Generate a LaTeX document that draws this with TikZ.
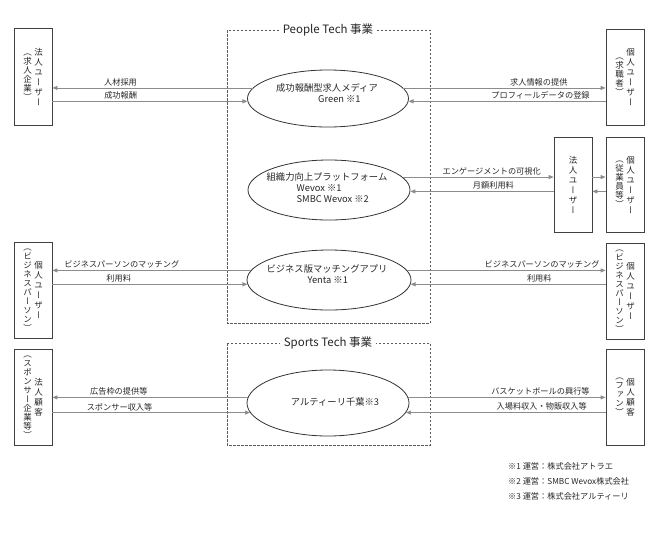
\documentclass[tikz,border=0pt]{standalone}
\usepackage{fontspec}
\setmainfont{Noto Sans CJK JP}
\newfontfamily\tatefont[RawFeature=+vert]{Noto Sans CJK JP}
\usetikzlibrary{arrows.meta,shapes.geometric}

% vertical (tategaki) column: one glyph per line, #1 = pitch
\makeatletter
\def\tate@end{\tate@end}
\def\tate@loop#1{\ifx#1\tate@end\else\hbox to 10pt{\hss#1\hss}\expandafter\tate@loop\fi}
\newcommand\tatecol[2][9pt]{$\vcenter{\tatefont\fontsize{8.5}{9}\selectfont
  \baselineskip=#1\lineskiplimit=-\maxdimen\tate@loop#2\tate@end}$}
\makeatother
\newcommand\tatepair[2]{\tatecol{#1}\hspace{1pt}\tatecol[10pt]{#2}}

\begin{document}
\begin{tikzpicture}[x=1pt, y=-1pt,
  ubox/.style={draw=black!75, line width=0.8pt, minimum width=38pt, minimum height=96pt, inner sep=0pt, text=black!85},
  ell/.style={ellipse, draw=black!80, line width=0.8pt, inner sep=0pt},
  etext/.style={align=left, inner sep=0pt, text=black!85, font=\fontsize{9.3}{11}\selectfont},
  grp/.style={draw=black!65, line width=0.8pt, dash pattern=on 2.5pt off 1.5pt},
  grptitle/.style={fill=white, inner xsep=4pt, text=black!85, font=\fontsize{11.5}{13}\selectfont},
  flow/.style={draw=black!45, line width=0.8pt, -{Triangle[length=5pt, width=4pt]}},
  lbl/.style={above=1.5pt, inner sep=0pt, text=black!85, font=\fontsize{8.2}{9}\selectfont},
  note/.style={anchor=west, inner sep=0pt, text=black!85, font=\fontsize{8.2}{9}\selectfont}]

\useasboundingbox (0,0) rectangle (652,533);

% --- Business groups ---
\draw[grp] (227,30) rectangle (430,323);
\node[grptitle] (ptt) at (328,30) {People Tech 事業};
\draw[grp] (227,343) rectangle (430,445);
\node[grptitle] (stt) at (328,343) {Sports Tech 事業};

% --- Services ---
\node[ell, minimum width=161pt, minimum height=57pt] (e1) at (328,98.5) {};
\node[etext] (e1t) at (327,93.5) {成功報酬型求人メディア\\\hspace*{42pt}Green ※1};
\node[ell, minimum width=162pt, minimum height=60pt] (e2) at (329,190) {};
\node[etext] (e2t) at (327,187.5) {組織力向上プラットフォーム\\\hspace*{30pt}Wevox ※1\\\hspace*{30pt}SMBC Wevox ※2};
\node[ell, minimum width=164pt, minimum height=60pt] (e3) at (329,280) {};
\node[etext] (e3t) at (327,274) {ビジネス版マッチングアプリ\\\hspace*{41pt}Yenta ※1};
\node[ell, minimum width=162pt, minimum height=66pt] (e4) at (328,403) {};
\node[etext] (e4t) at (335,402) {アルティーリ千葉※3};

% --- Users and customers ---
\node[ubox, minimum height=97pt] (l1) at (33,77) {\tatepair{（求人企業）}{法人ユーザー}};
\node[ubox] (l2) at (33,290) {\tatepair{（ビジネスパーソン）}{個人ユーザー}};
\node[ubox] (l3) at (33,397) {\tatepair{（スポンサー企業等）}{法人顧客}};
\node[ubox] (r1) at (625,77) {\tatepair{（求職者）}{個人ユーザー}};
\node[ubox, minimum height=95pt] (rm) at (573,184.5) {\tatecol[10pt]{法人ユーザー}};
\node[ubox, minimum height=95pt] (r2) at (625,184.5) {\tatepair{（従業員等）}{個人ユーザー}};
\node[ubox] (r3) at (625,291) {\tatepair{（ビジネスパーソン）}{個人ユーザー}};
\node[ubox] (r4) at (625,397) {\tatepair{（ファン）}{個人顧客}};

% --- Flows ---
\draw[flow] (e1.172) -- node[lbl, pos=0.66] (f1) {人材採用} (e1.172 -| l1.east);
\draw[flow] (e1.182 -| l1.east) -- node[lbl, pos=0.35] (f2) {成功報酬} (e1.182);
\draw[flow] (e1.8) -- node[lbl, pos=0.67] (f3) {求人情報の提供} (e1.8 -| r1.west);
\draw[flow] (e1.358 -| r1.west) -- node[lbl, pos=0.33] (f4) {プロフィールデータの登録} (e1.358);

\draw[flow] (e2.10) -- node[lbl, pos=0.59] (f5) {エンゲージメントの可視化} (e2.10 -| rm.west);
\draw[flow] (e2.359 -| rm.west) -- node[lbl, pos=0.42] (f6) {月額利用料} (e2.359);
\draw[flow] (e2.10 -| rm.east) -- (e2.10 -| r2.west);
\draw[flow] (e2.359 -| r2.west) -- (e2.359 -| rm.east);

\draw[flow] (e3.173) -- node[lbl, pos=0.65] (f7) {ビジネスパーソンのマッチング} (e3.173 -| l2.east);
\draw[flow] (e3.183 -| l2.east) -- node[lbl, pos=0.34] (f8) {利用料} (e3.183);
\draw[flow] (e3.7) -- node[lbl, pos=0.68] (f9) {ビジネスパーソンのマッチング} (e3.7 -| r3.west);
\draw[flow] (e3.357 -| r3.west) -- node[lbl, pos=0.34] (f10) {利用料} (e3.357);

\draw[flow] (e4.176) -- node[lbl, pos=0.66] (f11) {広告枠の提供等} (e4.176 -| l3.east);
\draw[flow] (e4.187 -| l3.east) -- node[lbl, pos=0.34] (f12) {スポンサー収入等} (e4.187);
\draw[flow] (e4.4) -- node[lbl, pos=0.67] (f13) {バスケットボールの興行等} (e4.4 -| r4.west);
\draw[flow] (e4.353 -| r4.west) -- node[lbl, pos=0.32] (f14) {入場料収入・物販収入等} (e4.353);

% --- Notes ---
\node[note] (n1) at (508,466) {※1 運営：株式会社アトラエ};
\node[note] (n2) at (508,481) {※2 運営：SMBC Wevox株式会社};
\node[note] (n3) at (508,496) {※3 運営：株式会社アルティーリ};

\end{tikzpicture}
\end{document}
